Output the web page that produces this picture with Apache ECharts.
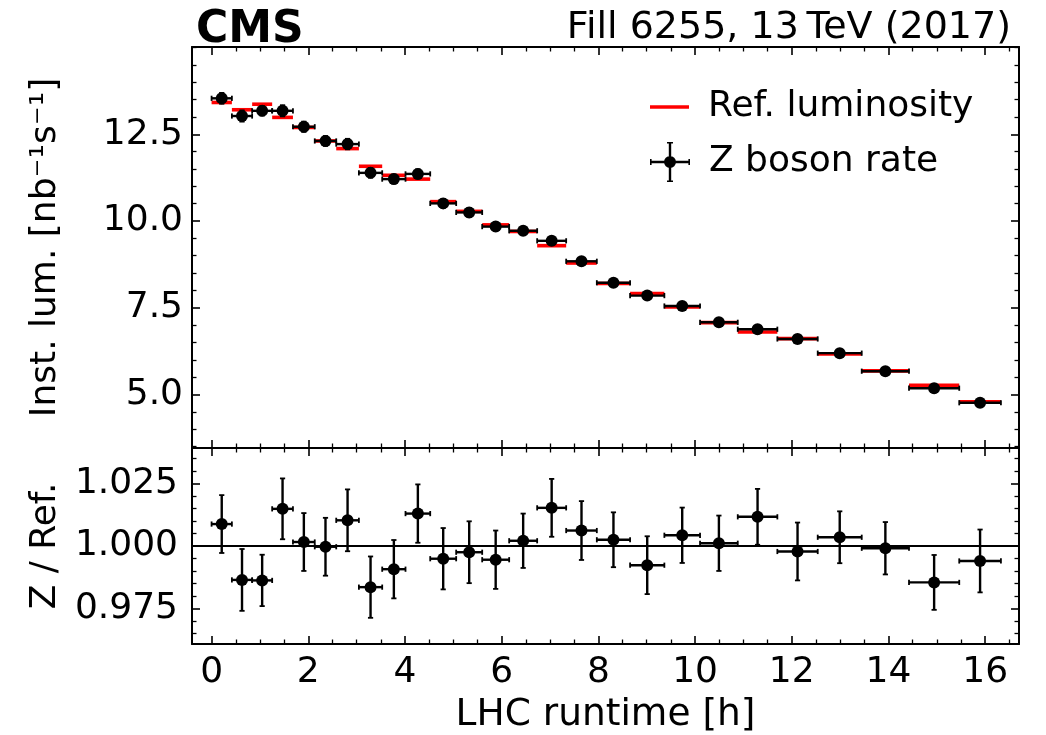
<!DOCTYPE html>
<html>
<head>
<meta charset="utf-8">
<script src="https://cdn.jsdelivr.net/npm/echarts@6/dist/echarts.min.js"></script>
<style>html,body{margin:0;padding:0;background:#fff;}#chart{width:1046px;height:735px;}</style>
</head>
<body>
<div id="chart"></div>
<script>
// ---- data ----
const binEdges = [0.0, 0.420, 0.839, 1.253, 1.683, 2.134, 2.578, 3.047, 3.529, 4.011, 4.522, 5.059, 5.597,
  6.155, 6.734, 7.334, 7.968, 8.656, 9.365, 10.103, 10.883, 11.702, 12.537, 13.447, 14.425, 15.464, 16.326];
const zRate = [13.54, 13.03, 13.18, 13.18, 12.72, 12.31, 12.22, 11.39, 11.21, 11.36, 10.51, 10.25, 9.84,
  9.72, 9.43, 8.84, 8.22, 7.85, 7.55, 7.08, 6.88, 6.60, 6.19, 5.67, 5.18, 4.76];
const zRateErr = [0.157, 0.162, 0.136, 0.161, 0.148, 0.143, 0.152, 0.140, 0.131, 0.133, 0.129, 0.127, 0.115,
  0.106, 0.109, 0.104, 0.090, 0.091, 0.084, 0.079, 0.077, 0.077, 0.064, 0.060, 0.057, 0.060];
const refLumi = [13.42, 13.21, 13.37, 12.99, 12.70, 12.31, 12.09, 11.58, 11.32, 11.21, 10.56, 10.28, 9.89,
  9.70, 9.29, 8.79, 8.20, 7.91, 7.52, 7.07, 6.80, 6.61, 6.17, 5.68, 5.26, 4.79];
const ratio = [1.0088, 0.9864, 0.9862, 1.0149, 1.0016, 0.9997, 1.0103, 0.9835, 0.9907, 1.0130, 0.9949, 0.9975, 0.9945,
  1.0021, 1.0153, 1.0062, 1.0025, 0.9923, 1.0043, 1.0011, 1.0117, 0.9978, 1.0035, 0.9991, 0.9854, 0.9940];
const ratioErr = [0.0116, 0.0124, 0.0103, 0.0122, 0.0116, 0.0116, 0.0124, 0.0123, 0.0117, 0.0117, 0.0123, 0.0124, 0.0117,
  0.0109, 0.0116, 0.0118, 0.0110, 0.0116, 0.0111, 0.0111, 0.0112, 0.0116, 0.0104, 0.0105, 0.0110, 0.0126];

const xMajorTicks = [0, 2, 4, 6, 8, 10, 12, 14, 16];
const xMinorTicks = [0.5, 1, 1.5, 2.5, 3, 3.5, 4.5, 5, 5.5, 6.5, 7, 7.5, 8.5, 9, 9.5, 10.5, 11, 11.5, 12.5, 13, 13.5, 14.5, 15, 15.5, 16.5];
const lumiMajorTicks = [5, 7.5, 10, 12.5];
const lumiMinorTicks = [3.5, 4, 4.5, 5.5, 6, 6.5, 7, 8, 8.5, 9, 9.5, 10.5, 11, 11.5, 12, 13, 13.5, 14, 14.5, 15];
const ratioMajorTicks = [0.975, 1.0, 1.025];
const ratioMinorTicks = [0.965, 0.97, 0.98, 0.985, 0.99, 0.995, 1.005, 1.01, 1.015, 1.02, 1.03, 1.035];

const xRange = [-0.405, 16.70];
const lumiRange = [3.455, 15.02];
const ratioRange = [0.9607, 1.0393];

const seriesNames = { ref: 'Ref. luminosity', z: 'Z boson rate' };
const labels = {
  cms: 'CMS',
  right: 'Fill 6255, 13\u2009TeV (2017)',
  x: 'LHC runtime [h]',
  yTop: 'Inst. lum. [nb\u207B\u00B9s\u207B\u00B9]',
  yBottom: 'Z / Ref.'
};

// ---- chart ----
const FONT = 'DejaVu Sans';
const chart = echarts.init(document.getElementById('chart'), null, { renderer: 'canvas' });

function mkAxis(gridIndex, position, range, ticks, major, extra) {
  const a = {
    type: 'value', gridIndex: gridIndex, position: position,
    min: range[0], max: range[1],
    axisLine: { show: major, onZero: false, lineStyle: { color: '#000', width: 2 } },
    axisTick: { show: true, inside: true, length: major ? 8 : 4.5, customValues: ticks,
      lineStyle: { color: '#000', width: major ? 1.6 : 1.3 } },
    axisLabel: { show: false },
    splitLine: { show: false },
    minorTick: { show: false },
    z: 5
  };
  return Object.assign(a, extra || {});
}

const xAxes = [], yAxes = [];
// grid 0 (top panel)
xAxes.push(mkAxis(0, 'bottom', xRange, xMajorTicks, true));
xAxes.push(mkAxis(0, 'bottom', xRange, xMinorTicks, false));
xAxes.push(mkAxis(0, 'top', xRange, xMajorTicks, true));
xAxes.push(mkAxis(0, 'top', xRange, xMinorTicks, false));
// grid 1 (ratio panel)
xAxes.push(mkAxis(1, 'bottom', xRange, xMajorTicks, true, {
  axisLabel: { show: true, customValues: xMajorTicks, margin: 11, fontSize: 36, fontFamily: FONT, color: '#000',
    formatter: v => String(v) },
  name: labels.x, nameLocation: 'middle', nameGap: 52,
  nameTextStyle: { fontSize: 37.5, fontFamily: FONT, color: '#000' }
}));
xAxes.push(mkAxis(1, 'bottom', xRange, xMinorTicks, false));
xAxes.push(mkAxis(1, 'top', xRange, xMajorTicks, true));
xAxes.push(mkAxis(1, 'top', xRange, xMinorTicks, false));

yAxes.push(mkAxis(0, 'left', lumiRange, lumiMajorTicks, true, {
  axisLabel: { show: true, customValues: lumiMajorTicks, margin: 9, fontSize: 36, fontFamily: FONT, color: '#000',
    formatter: v => Number(v).toFixed(1) },
  name: labels.yTop, nameLocation: 'middle', nameGap: 128,
  nameTextStyle: { fontSize: 36, fontFamily: FONT, color: '#000' }
}));
yAxes.push(mkAxis(0, 'left', lumiRange, lumiMinorTicks, false));
yAxes.push(mkAxis(0, 'right', lumiRange, lumiMajorTicks, true));
yAxes.push(mkAxis(0, 'right', lumiRange, lumiMinorTicks, false));
yAxes.push(mkAxis(1, 'left', ratioRange, ratioMajorTicks, true, {
  axisLabel: { show: true, customValues: ratioMajorTicks, margin: 14, fontSize: 36, fontFamily: FONT, color: '#000',
    formatter: v => Number(v).toFixed(3) },
  name: labels.yBottom, nameLocation: 'middle', nameGap: 128,
  nameTextStyle: { fontSize: 36, fontFamily: FONT, color: '#000' }
}));
yAxes.push(mkAxis(1, 'left', ratioRange, ratioMinorTicks, false));
yAxes.push(mkAxis(1, 'right', ratioRange, ratioMajorTicks, true));
yAxes.push(mkAxis(1, 'right', ratioRange, ratioMinorTicks, false));

function errorBarRender(params, api) {
  const lo = api.value(0), hi = api.value(1), y = api.value(2), e = api.value(3);
  const c = (lo + hi) / 2;
  const pL = api.coord([lo, y]), pR = api.coord([hi, y]);
  const pT = api.coord([c, y + e]), pB = api.coord([c, y - e]);
  const cap = 2.6;
  const st = { stroke: '#000', lineWidth: 2.4 };
  const stc = { stroke: '#000', lineWidth: 1.8 };
  return { type: 'group', children: [
    { type: 'line', shape: { x1: pL[0], y1: pL[1], x2: pR[0], y2: pR[1] }, style: st },
    { type: 'line', shape: { x1: pT[0], y1: pT[1], x2: pB[0], y2: pB[1] }, style: st },
    { type: 'line', shape: { x1: pL[0], y1: pL[1] - cap, x2: pL[0], y2: pL[1] + cap }, style: stc },
    { type: 'line', shape: { x1: pR[0], y1: pR[1] - cap, x2: pR[0], y2: pR[1] + cap }, style: stc },
    { type: 'line', shape: { x1: pT[0] - cap, y1: pT[1], x2: pT[0] + cap, y2: pT[1] }, style: stc },
    { type: 'line', shape: { x1: pB[0] - cap, y1: pB[1], x2: pB[0] + cap, y2: pB[1] }, style: stc }
  ]};
}

function refRender(params, api) {
  const lo = api.value(0), hi = api.value(1), y = api.value(2);
  const a = api.coord([lo, y]), b = api.coord([hi, y]);
  return { type: 'line', shape: { x1: a[0], y1: a[1], x2: b[0], y2: b[1] },
    style: { stroke: '#ff0000', lineWidth: 3.6 } };
}

const refData = refLumi.map((v, i) => [binEdges[i], binEdges[i + 1], v]);
const zErrData = zRate.map((v, i) => [binEdges[i], binEdges[i + 1], v, zRateErr[i]]);
const zPoints = zRate.map((v, i) => [(binEdges[i] + binEdges[i + 1]) / 2, v]);
const rErrData = ratio.map((v, i) => [binEdges[i], binEdges[i + 1], v, ratioErr[i]]);
const rPoints = ratio.map((v, i) => [(binEdges[i] + binEdges[i + 1]) / 2, v]);

const errIcon = 'path://M0 18.8H40V21.2H0Z M18.8 0H21.2V40H18.8Z M0 17H1.6V23H0Z M38.4 17H40V23H38.4Z ' +
  'M17 0H23V1.6H17Z M17 38.4H23V40H17Z M14 20A6 6 0 1 1 26 20A6 6 0 1 1 14 20Z';

const option = {
  animation: false,
  backgroundColor: '#fff',
  title: [
    { text: labels.cms, left: 191, top: 4,
      textStyle: { fontSize: 44, fontWeight: 'bold', fontFamily: FONT, color: '#000' } },
    { text: labels.right, right: 30, top: 4,
      textStyle: { fontSize: 38, fontWeight: 'normal', fontFamily: FONT, color: '#000' } }
  ],
  grid: [
    { left: 192, right: 27, top: 47, height: 401 },
    { left: 192, right: 27, top: 448, height: 200 }
  ],
  legend: [
    { left: 645, top: 84, orient: 'vertical', itemWidth: 39, itemHeight: 3.6, selectedMode: false,
      data: [{ name: seriesNames.ref, icon: 'rect' }],
      textStyle: { fontSize: 36, fontFamily: FONT, color: '#000', padding: [0, 0, 0, 14] } },
    { left: 645, top: 137, orient: 'vertical', itemWidth: 40, itemHeight: 40, selectedMode: false,
      data: [{ name: seriesNames.z, icon: errIcon }],
      textStyle: { fontSize: 36, fontFamily: FONT, color: '#000', padding: [0, 0, 0, 14] } }
  ],
  xAxis: xAxes,
  yAxis: yAxes,
  series: [
    { type: 'custom', name: seriesNames.ref, xAxisIndex: 0, yAxisIndex: 0, data: refData,
      encode: { x: [0, 1], y: 2 }, renderItem: refRender, itemStyle: { color: '#ff0000' }, silent: true, z: 2 },
    { type: 'custom', name: 'zErr', xAxisIndex: 0, yAxisIndex: 0, data: zErrData,
      encode: { x: [0, 1], y: 2 }, renderItem: errorBarRender, silent: true, z: 3 },
    { type: 'scatter', name: seriesNames.z, xAxisIndex: 0, yAxisIndex: 0, data: zPoints,
      symbol: 'circle', symbolSize: 12, itemStyle: { color: '#000', opacity: 1 }, silent: true, z: 4 },
    { type: 'custom', name: 'ratioErr', xAxisIndex: 4, yAxisIndex: 4, data: rErrData,
      encode: { x: [0, 1], y: 2 }, renderItem: errorBarRender, silent: true, z: 3,
      markLine: { silent: true, symbol: 'none', label: { show: false },
        lineStyle: { color: '#000', width: 2, type: 'solid' }, data: [{ yAxis: 1.0 }] } },
    { type: 'scatter', name: 'ratio', xAxisIndex: 4, yAxisIndex: 4, data: rPoints,
      symbol: 'circle', symbolSize: 12, itemStyle: { color: '#000', opacity: 1 }, silent: true, z: 4 }
  ]
};
chart.setOption(option);
</script>
</body>
</html>
